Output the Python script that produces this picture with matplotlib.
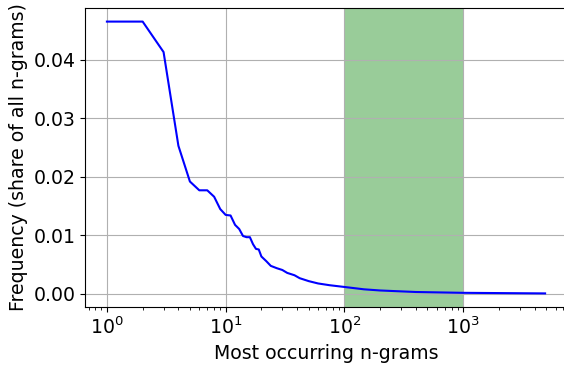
import matplotlib
matplotlib.use('Agg')
import matplotlib.pyplot as plt

# rank of n-gram and its share of all n-grams
rank = [1, 2, 3, 4, 5, 6, 7, 8, 9, 10, 11, 12, 13, 14, 15, 16, 17, 18, 19, 20,
        22, 24, 27, 30, 33, 38, 42, 50, 60, 75, 100, 146, 200, 400, 1000, 4900]
freq = [0.0465, 0.0465, 0.0413, 0.0253, 0.0192, 0.0177, 0.0177, 0.0166, 0.0145, 0.0135,
        0.0134, 0.0118, 0.0111, 0.0099, 0.0097, 0.0097, 0.0085, 0.0077, 0.0076, 0.0064,
        0.0056, 0.0048, 0.0044, 0.0041, 0.0036, 0.0032, 0.0027, 0.0022, 0.0018, 0.0015,
        0.0012, 0.0008, 0.0006, 0.00034, 0.0002, 0.0001]
span_lo, span_hi = 100, 1000

plt.rcParams['font.size'] = 13.6

fig = plt.figure(figsize=(5.64, 3.65), dpi=100)
ax = fig.add_axes([85 / 564, 1 - 307 / 365, 482 / 564, 299 / 365])

ax.axvspan(span_lo, span_hi, color='green', alpha=0.4, linewidth=0)
ax.plot(rank, freq, color='blue', linewidth=1.5, zorder=3)
ax.set_xscale('log')
ax.grid(True, which='major')

ax.set_xlabel('Most occurring n-grams')
ax.set_ylabel('Frequency (share of all n-grams)')

fig.savefig('out.png', dpi=100)
